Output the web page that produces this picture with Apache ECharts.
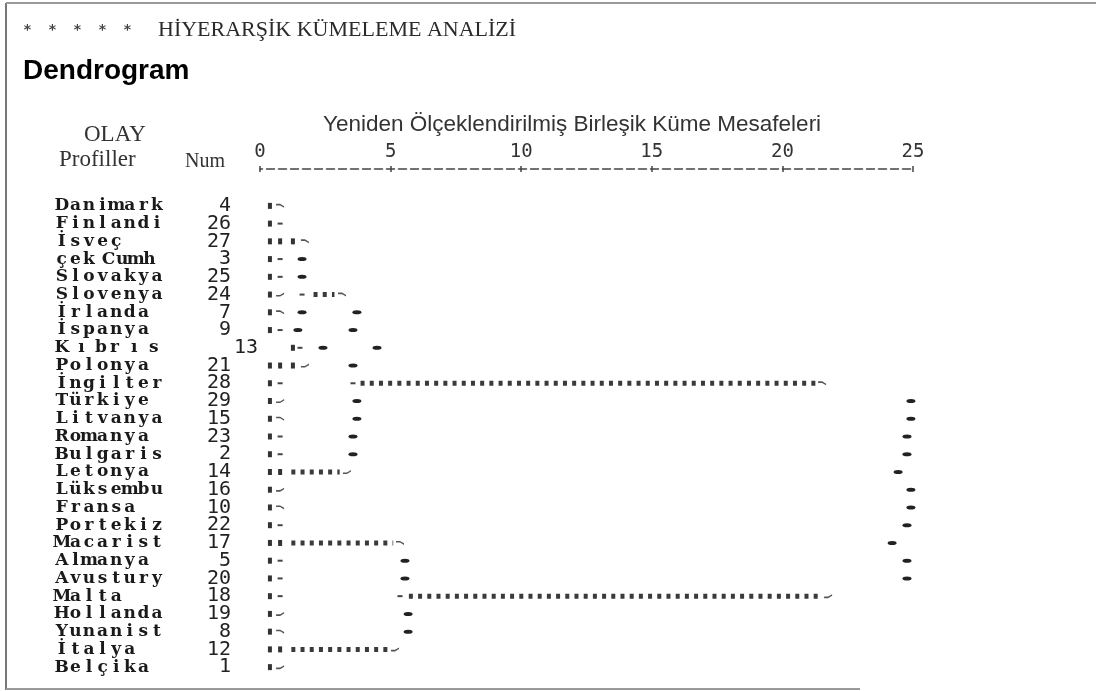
<!DOCTYPE html>
<html><head><meta charset="utf-8">
<script src="https://cdn.jsdelivr.net/npm/echarts@6/dist/echarts.min.js"></script>
<style>html,body{margin:0;padding:0;background:#fff}#c{width:1096px;height:691px}</style>
</head><body><div id="c"></div>
<script>
// ---- data (distances on the rescaled 0-25 axis, rows top to bottom) ----
const names = ['Danimark','Finlandi','İsveç','çek Cumh','Slovakya','Slovenya','İrlanda','İspanya','K ı br ı s','Polonya','İngilter','Türkiye','Litvanya','Romanya','Bulgaris','Letonya','Lüksembu','Fransa','Portekiz','Macarist','Almanya','Avustury','Malta','Hollanda','Yunanist','İtalya','Belçika'];
const nums = [4,26,27,3,25,24,7,9,13,21,28,29,15,23,2,14,16,10,22,17,5,20,18,19,8,12,1];
const tickValues = [0,5,10,15,20,25];
// leaf glyph position per row
const leafX = [0.38,0.38,0.38,0.38,0.38,0.38,0.38,0.38,1.26,0.38,0.38,0.38,0.38,0.38,0.38,0.38,0.38,0.38,0.38,0.38,0.38,0.38,0.38,0.38,0.38,0.38,0.38];
// single dots [row, distance]
const dotPts = [[2,0.77],[2,1.26],[9,0.77],[9,1.26],[15,0.77],[19,0.77],[25,0.77]];
// dotted horizontal runs [row, from, to]
const runs = [[5,2.05,2.85],[10,3.85,21.3],[15,1.2,3.05],[19,1.2,5.1],[22,5.7,21.55],[25,1.2,4.95]];
// small joining dashes [row, distance]
const smallDash = [[1,0.77],[3,0.77],[4,0.77],[7,0.77],[8,1.53],[10,0.77],[13,0.77],[14,0.77],[18,0.77],[20,0.77],[21,0.77],[22,0.77],[5,1.61],[10,3.56],[22,5.36]];
// end glyphs [row, distance]
const tailDown = [[0,0.77],[2,1.72],[5,3.14],[6,0.77],[12,0.77],[17,0.77],[19,5.36],[24,0.77],[10,21.52]];
const tailUp = [[5,0.77],[9,1.72],[11,0.77],[15,3.33],[16,0.77],[22,21.75],[23,0.77],[25,5.17],[26,0.77]];
// vertical connector marks [row, distance]
const connectors = [[3,1.61],[4,1.61],[6,1.61],[7,1.45],[8,2.41],
  [6,3.71],[7,3.56],[8,4.48],[9,3.56],[11,3.71],[12,3.71],[13,3.56],[14,3.56],
  [20,5.55],[21,5.55],[23,5.67],[24,5.67],
  [11,24.92],[12,24.92],[13,24.77],[14,24.77],[15,24.43],[16,24.92],[17,24.92],[18,24.77],[19,24.2],[20,24.77],[21,24.77]];

// ---- chart ----
const GL = 260, NAME_X = 55, NUM_END = 231, CELL = 13.6, SPACE = 6, WIDE = 13.5;
const rich = {
  n: {fontFamily:'DejaVu Serif', fontWeight:'bold', fontSize:17, color:'#1a1a1a', width:CELL, align:'center', lineHeight:18},
  sp: {width:SPACE, fontSize:17, lineHeight:18}
};
names.forEach((nm, i) => {
  let w = 0;
  for (const ch of nm) w += (ch === ' ') ? SPACE : CELL;
  const wide = (nm.match(/ı/g) || []).length;
  rich['m' + i] = {fontFamily:'DejaVu Sans Mono', fontSize:20, color:'#222', align:'right', lineHeight:18,
                   width: NUM_END + wide * WIDE - NAME_X - w};
});
function labelFmt(v, i) {
  let s = '';
  for (const ch of v) s += (ch === ' ') ? '{sp| }' : '{n|' + ch + '}';
  return s + '{m' + i + '|' + nums[i] + '}';
}
const toXY = a => a.map(p => [p[1], p[0]]);
const sym = (data, symbol, size, color) => ({
  type:'scatter', data: toXY(data), symbol, symbolSize:size, silent:true,
  itemStyle:{color, opacity:1}, animation:false, z:3
});

const chart = echarts.init(document.getElementById('c'));
chart.setOption({
  backgroundColor:'#fff',
  animation:false,
  title: [
    {left:15, top:19, padding:0,
     text:'{s|*}{s|*}{s|*}{s|*}{s|*}{g|}{t|HİYERARŞİK KÜMELEME ANALİZİ}',
     textStyle:{rich:{s:{width:25, align:'center', fontSize:14, color:'#444', fontFamily:'DejaVu Sans'},
                      g:{width:18}, t:{fontFamily:'Liberation Serif', fontWeight:'normal', fontSize:22, color:'#2a2a2a'}}}},
    {left:23, top:57, padding:0, text:'Dendrogram',
     textStyle:{fontFamily:'Liberation Sans', fontWeight:'bold', fontSize:28, color:'#000'}},
    {left:323, top:113, padding:0, text:'Yeniden Ölçeklendirilmiş Birleşik Küme Mesafeleri',
     textStyle:{fontFamily:'Liberation Sans', fontWeight:'normal', fontSize:22.5, color:'#333'}},
    {left:84, top:123, padding:0, text:'OLAY',
     textStyle:{fontFamily:'Liberation Serif', fontWeight:'normal', fontSize:23, color:'#333'}},
    {left:59, top:148, padding:0, text:'Profiller',
     textStyle:{fontFamily:'Liberation Serif', fontWeight:'normal', fontSize:23, color:'#333'}},
    {left:185, top:152, padding:0, text:'Num',
     textStyle:{fontFamily:'Liberation Serif', fontWeight:'normal', fontSize:20, color:'#333'}}
  ],
  grid:{left:GL, right:183, top:197, bottom:15, containLabel:false},
  xAxis:[
    {type:'value', min:0, max:25, interval:5, position:'top', offset:28,
     axisLine:{show:true, lineStyle:{color:'#444', width:1.5, type:[8,4], dashOffset:5.5}},
     axisTick:{show:true, length:3, lineStyle:{color:'#444', width:1.5}},
     axisLabel:{show:true, margin:7, fontFamily:'DejaVu Sans Mono', fontSize:19, color:'#333',
                formatter: v => tickValues.indexOf(v) >= 0 ? String(v) : ''},
     splitLine:{show:false}},
    {type:'value', min:0, max:25, interval:5, position:'top', offset:28,
     axisLine:{show:false}, axisLabel:{show:false}, splitLine:{show:false},
     axisTick:{show:true, inside:true, length:3, lineStyle:{color:'#444', width:1.5}}}
  ],
  yAxis:{type:'category', data:names, inverse:true, boundaryGap:true,
         axisLine:{show:false}, axisTick:{show:false}, splitLine:{show:false},
         axisLabel:{show:true, interval:0, align:'left', margin:GL - NAME_X, formatter:labelFmt, rich}},
  series:[
    {type:'custom', silent:true, animation:false, z:2,
     data: runs, encode:{x:[1,2], y:0},
     renderItem:(params, api) => {
       const r = api.value(0);
       const p0 = api.coord([api.value(1), r]);
       const p1 = api.coord([api.value(2), r]);
       return {type:'line', shape:{x1:p0[0], y1:p0[1], x2:p1[0], y2:p1[1]},
               style:{stroke:'#3a3a3a', lineWidth:5, lineDash:[4,5.2], lineCap:'butt'}};
     }},
    sym(leafX.map((x, i) => [i, x]), 'rect', [4,6], '#333'),
    sym(dotPts, 'rect', [4,6], '#333'),
    sym(smallDash, 'rect', [5,2], '#444'),
    sym(tailDown, 'path://M0,0 L4,0 L8,3 L8,5 L4,2 L0,2 Z', [8,4], '#555'),
    sym(tailUp, 'path://M0,5 L4,5 L8,2 L8,0 L4,3 L0,3 Z', [8,4], '#555'),
    sym(connectors, 'circle', [9,4], '#222')
  ],
  graphic:[
    {type:'line', shape:{x1:6, y1:3, x2:6, y2:690}, style:{stroke:'#777', lineWidth:2}, silent:true},
    {type:'line', shape:{x1:6, y1:3, x2:1096, y2:3}, style:{stroke:'#999', lineWidth:2}, silent:true},
    {type:'line', shape:{x1:6, y1:689, x2:860, y2:689}, style:{stroke:'#999', lineWidth:2}, silent:true}
  ]
});
</script></body></html>
